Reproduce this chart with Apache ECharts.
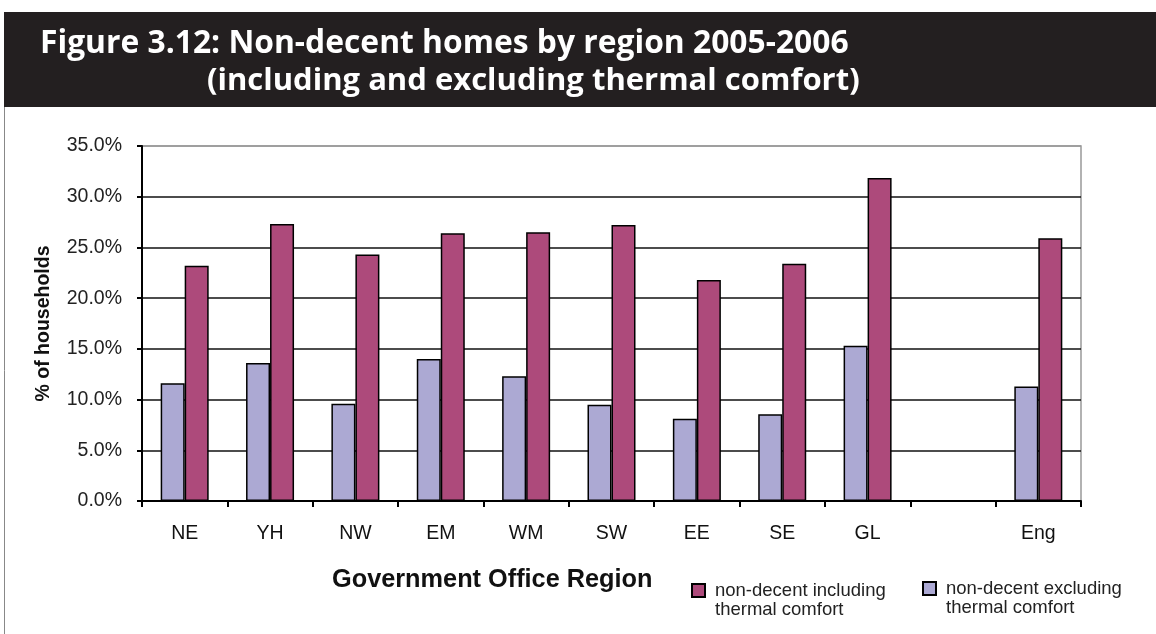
<!DOCTYPE html>
<html>
<head>
<meta charset="utf-8">
<script src="https://cdn.jsdelivr.net/npm/echarts@6/dist/echarts.min.js"></script>
<style>
  html, body { margin: 0; padding: 0; background: #fff; }
  #main { width: 1156px; height: 634px; }
</style>
</head>
<body>
<div id="main"></div>
<script>
// regions (blank slot before England total, as in the source)
var regions = ['NE', 'YH', 'NW', 'EM', 'WM', 'SW', 'EE', 'SE', 'GL', '', 'Eng'];
// % of households
var exclThermal = [11.6, 13.6, 9.6, 14.0, 12.3, 9.5, 8.1, 8.55, 15.3, null, 11.3];
var inclThermal = [23.2, 27.3, 24.3, 26.4, 26.5, 27.2, 21.8, 23.4, 31.85, null, 25.9];
var yTicks = [0, 5, 10, 15, 20, 25, 30, 35];

var inclName = 'non-decent including\nthermal comfort';
var exclName = 'non-decent excluding\nthermal comfort';

var myChart = echarts.init(document.getElementById('main'));

var legendText = {
  fontFamily: 'Liberation Sans, Arial',
  fontSize: 18.5,
  color: '#222',
  lineHeight: 19,
  padding: [0, 0, 0, 5]
};
// blank first line so the square sits level with the first text line
function legendLabel(name) {
  return ' \n' + name;
}

var option = {
  animation: false,
  textStyle: { fontFamily: 'Liberation Sans, Arial' },
  graphic: [
    // dark header band
    { type: 'rect', left: 4, top: 12, shape: { width: 1152, height: 95 }, style: { fill: '#231f20' }, silent: true },
    // frame line on the left
    { type: 'line', shape: { x1: 4.5, y1: 107, x2: 4.5, y2: 634 }, style: { stroke: '#888', lineWidth: 1 }, silent: true }
  ],
  title: [
    {
      text: 'Figure 3.12: Non-decent homes by region 2005-2006',
      left: 40, top: 28, padding: 0,
      textStyle: { color: '#fff', fontFamily: 'Open Sans', fontWeight: 'bold', fontSize: 31.8 }
    },
    {
      text: '(including and excluding thermal comfort)',
      left: 207, top: 66, padding: 0,
      textStyle: { color: '#fff', fontFamily: 'Open Sans', fontWeight: 'bold', fontSize: 31 }
    },
    {
      text: 'Government Office Region',
      left: 332, top: 568, padding: 0,
      textStyle: { color: '#111', fontFamily: 'Liberation Sans, Arial', fontWeight: 'bold', fontSize: 25.3 }
    }
  ],
  legend: [
    {
      data: [inclName], left: 691, top: 562, padding: 0,
      itemWidth: 13, itemHeight: 13, itemGap: 0,
      icon: 'rect', formatter: legendLabel, textStyle: legendText
    },
    {
      data: [exclName], left: 922, top: 560, padding: 0,
      itemWidth: 13, itemHeight: 13, itemGap: 0,
      icon: 'rect', formatter: legendLabel, textStyle: legendText
    }
  ],
  grid: {
    left: 142, right: 75, top: 146, bottom: 133,
    show: true, borderColor: '#999', borderWidth: 1.5, backgroundColor: 'transparent'
  },
  xAxis: {
    type: 'category',
    data: regions,
    axisLine: { lineStyle: { color: '#000', width: 2 } },
    axisTick: { show: true, length: 6, lineStyle: { color: '#000', width: 2 } },
    axisLabel: { color: '#111', fontSize: 19.5, margin: 23 }
  },
  yAxis: {
    type: 'value',
    min: yTicks[0],
    max: yTicks[yTicks.length - 1],
    interval: 5,
    name: '% of households',
    nameLocation: 'middle',
    nameGap: 88,
    nameTextStyle: { color: '#111', fontWeight: 'bold', fontSize: 19.5 },
    axisLine: { show: true, lineStyle: { color: '#000', width: 2 } },
    axisTick: { show: true, length: 5, lineStyle: { color: '#000', width: 2 } },
    axisLabel: {
      color: '#222', fontSize: 19.5, margin: 20,
      formatter: function (v) { return v.toFixed(1) + '%'; }
    },
    splitLine: {
      lineStyle: {
        color: ['#000', '#111', '#111', '#111', '#111', '#111', '#111', '#999'],
        width: 1.5
      }
    }
  },
  series: [
    {
      name: exclName,
      type: 'bar',
      data: exclThermal,
      barWidth: 24,
      barGap: '0%',
      itemStyle: { color: '#aca9d3', borderColor: '#000', borderWidth: 1.5 }
    },
    {
      name: inclName,
      type: 'bar',
      data: inclThermal,
      barWidth: 24,
      itemStyle: { color: '#ad4a7b', borderColor: '#000', borderWidth: 1.5 }
    }
  ]
};

myChart.setOption(option);
</script>
</body>
</html>
